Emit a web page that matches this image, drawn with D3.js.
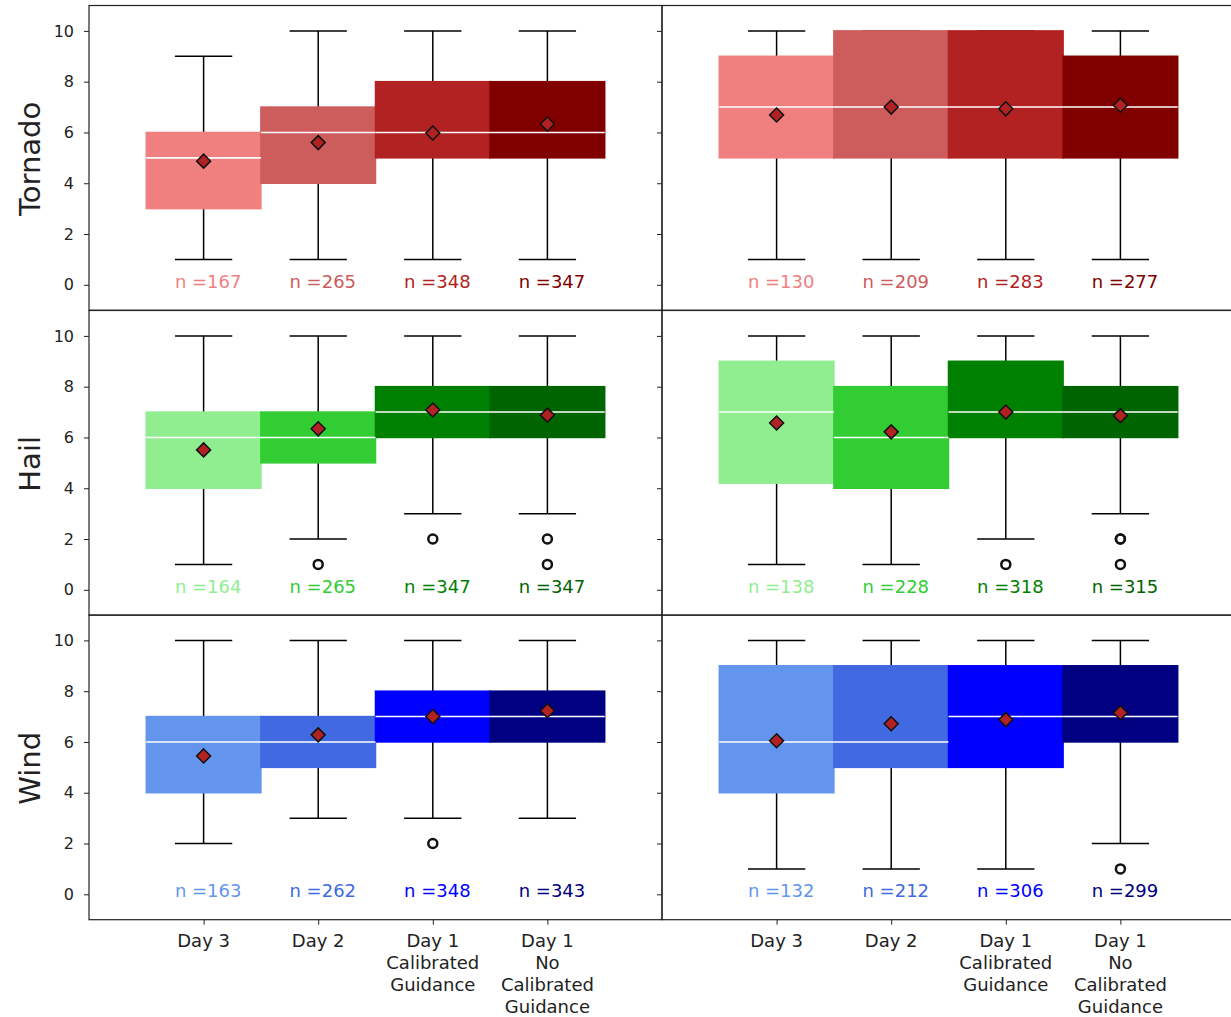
<!DOCTYPE html>
<html>
<head>
<meta charset="utf-8">
<script src="https://cdn.jsdelivr.net/npm/d3@7"></script>
<style>
  html, body { margin: 0; padding: 0; background: #fff; }
  svg { display: block; font-family: "DejaVu Sans", sans-serif; }
</style>
</head>
<body>
<svg id="chart" width="1231" height="1017"></svg>
<script>
// ---------------- DATA ----------------
const categories = [
  ["Day 3"],
  ["Day 2"],
  ["Day 1", "Calibrated", "Guidance"],
  ["Day 1", "No", "Calibrated", "Guidance"]
];
const hazards = ["Tornado", "Hail", "Wind"];
const yTicks = [0, 2, 4, 6, 8, 10];

const tornadoColors = ["#F08080", "#CD5C5C", "#B22222", "#800000"];
const hailColors    = ["#90EE90", "#32CD32", "#008000", "#006400"];
const windColors    = ["#6495ED", "#4169E1", "#0000FF", "#000080"];

// Tornado, left column
const tornadoLeft = {
  lo: [1, 1, 1, 1], q1: [3, 4, 5, 5], med: [5, 6, 6, 6], q3: [6, 7, 8, 8], hi: [9, 10, 10, 10],
  mean: [4.87, 5.6, 5.98, 6.33], n: [167, 265, 348, 347], out: [[], [], [], []]
};
// Tornado, right column
const tornadoRight = {
  lo: [1, 1, 1, 1], q1: [5, 5, 5, 5], med: [7, 7, 7, 7], q3: [9, 10, 10, 9], hi: [10, 10, 10, 10],
  mean: [6.69, 7.0, 6.93, 7.07], n: [130, 209, 283, 277], out: [[], [], [], []]
};
// Hail, left column
const hailLeft = {
  lo: [1, 2, 3, 3], q1: [4, 5, 6, 6], med: [6, 6, 7, 7], q3: [7, 7, 8, 8], hi: [10, 10, 10, 10],
  mean: [5.51, 6.34, 7.08, 6.88], n: [164, 265, 347, 347], out: [[], [1], [2], [2, 1]]
};
// Hail, right column
const hailRight = {
  lo: [1, 1, 2, 3], q1: [4.2, 4, 6, 6], med: [7, 6, 7, 7], q3: [9, 8, 9, 8], hi: [10, 10, 10, 10],
  mean: [6.57, 6.22, 7.0, 6.86], n: [138, 228, 318, 315], out: [[], [], [1], [2, 2, 1]]
};
// Wind, left column
const windLeft = {
  lo: [2, 3, 3, 3], q1: [4, 5, 6, 6], med: [6, 6, 7, 7], q3: [7, 7, 8, 8], hi: [10, 10, 10, 10],
  mean: [5.45, 6.28, 7.0, 7.23], n: [163, 262, 348, 343], out: [[], [], [2], []]
};
// Wind, right column
const windRight = {
  lo: [1, 1, 1, 2], q1: [4, 5, 5, 6], med: [6, 6, 7, 7], q3: [9, 9, 9, 9], hi: [10, 10, 10, 10],
  mean: [6.05, 6.72, 6.88, 7.15], n: [132, 212, 306, 299], out: [[], [], [], [1]]
};

const panels = [
  [tornadoLeft, tornadoRight],
  [hailLeft, hailRight],
  [windLeft, windRight]
];
const palettes = [tornadoColors, hailColors, windColors];

// ---------------- LAYOUT ----------------
const svg = d3.select("#chart");
svg.append("rect").attr("width", 1231).attr("height", 1017).attr("fill", "#fff");

const colX = [89, 662];
const panelW = 573;
const rowY = [5.5, 310.5, 615];
const panelH = 304.7;
const textColor = "#222";

panels.forEach((rowPanels, r) => {
  rowPanels.forEach((p, c) => {
    const x = d3.scaleLinear().domain([0, 5]).range([colX[c], colX[c] + panelW]);
    const y = d3.scaleLinear().domain([-1, 11]).range([rowY[r] + panelH, rowY[r]]);
    const colors = palettes[r];
    const g = svg.append("g");
    const pos = d3.range(1, 5);

    // whiskers
    pos.forEach((px, i) => {
      const cx = x(px);
      const hw = x(0.25) - x(0);
      g.append("line").attr("x1", cx).attr("x2", cx).attr("y1", y(p.hi[i])).attr("y2", y(p.q3[i]))
        .attr("stroke", "#000").attr("stroke-width", 1.5);
      g.append("line").attr("x1", cx).attr("x2", cx).attr("y1", y(p.q1[i])).attr("y2", y(p.lo[i]))
        .attr("stroke", "#000").attr("stroke-width", 1.5);
      g.append("line").attr("x1", cx - hw).attr("x2", cx + hw).attr("y1", y(p.hi[i])).attr("y2", y(p.hi[i]))
        .attr("stroke", "#000").attr("stroke-width", 1.5);
      g.append("line").attr("x1", cx - hw).attr("x2", cx + hw).attr("y1", y(p.lo[i])).attr("y2", y(p.lo[i]))
        .attr("stroke", "#000").attr("stroke-width", 1.5);
    });

    // boxes
    g.selectAll("rect.box").data(pos).enter().append("rect")
      .attr("class", "box")
      .attr("x", (d) => x(d - 0.5))
      .attr("width", x(1) - x(0))
      .attr("y", (d, i) => y(p.q3[i]))
      .attr("height", (d, i) => y(p.q1[i]) - y(p.q3[i]))
      .attr("fill", (d, i) => colors[i])
      .attr("stroke", (d, i) => colors[i])
      .attr("stroke-width", 1.5);

    // medians
    g.selectAll("line.med").data(pos).enter().append("line")
      .attr("x1", (d) => x(d - 0.5)).attr("x2", (d) => x(d + 0.5))
      .attr("y1", (d, i) => y(p.med[i])).attr("y2", (d, i) => y(p.med[i]))
      .attr("stroke", "#fff").attr("stroke-width", 1.6);

    // outliers
    pos.forEach((px, i) => {
      p.out[i].forEach((v) => {
        g.append("circle").attr("cx", x(px)).attr("cy", y(v)).attr("r", 4.5)
          .attr("fill", "none").attr("stroke", "#111").attr("stroke-width", 2.5);
      });
    });

    // means
    const dm = 7;
    g.selectAll("path.mean").data(pos).enter().append("path")
      .attr("d", (d, i) => {
        const cx = x(d), cy = y(p.mean[i]);
        return `M${cx},${cy - dm}L${cx + dm},${cy}L${cx},${cy + dm}L${cx - dm},${cy}Z`;
      })
      .attr("fill", "#B22222").attr("stroke", "#111").attr("stroke-width", 1.5);

    // n labels
    g.selectAll("text.n").data(pos).enter().append("text")
      .attr("x", (d) => x(d + 0.04))
      .attr("y", y(0) + 3)
      .attr("text-anchor", "middle")
      .attr("font-size", 18)
      .attr("fill", (d, i) => colors[i])
      .text((d, i) => "n =" + p.n[i]);

    // y axis
    const ax = d3.axisLeft(y).tickValues(yTicks).tickSizeInner(5).tickSizeOuter(0).tickPadding(10);
    if (c === 1) ax.tickFormat(() => "");
    const ag = svg.append("g").attr("transform", `translate(${colX[c]},0)`).call(ax);
    ag.select(".domain").remove();
    ag.selectAll(".tick line").attr("stroke", textColor).attr("stroke-width", 1);
    ag.selectAll(".tick text").attr("font-size", 16).attr("fill", textColor)
      .attr("font-family", "DejaVu Sans, sans-serif");

    // x axis on bottom row
    if (r === 2) {
      const bx = d3.axisBottom(x).tickValues(pos).tickSizeInner(5).tickSizeOuter(0).tickFormat(() => "");
      const bg = svg.append("g").attr("transform", `translate(0,${rowY[r] + panelH})`).call(bx);
      bg.select(".domain").remove();
      bg.selectAll(".tick line").attr("stroke", textColor).attr("stroke-width", 1);
      pos.forEach((px, i) => {
        const t = svg.append("text")
          .attr("x", x(px)).attr("y", 946.5)
          .attr("text-anchor", "middle").attr("font-size", 18).attr("fill", textColor);
        categories[i].forEach((line, k) => {
          t.append("tspan").attr("x", x(px)).attr("y", 946.5 + k * 22).text(line);
        });
      });
    }

    // frame
    svg.append("rect")
      .attr("x", colX[c]).attr("y", rowY[r])
      .attr("width", panelW).attr("height", panelH)
      .attr("fill", "none").attr("stroke", textColor).attr("stroke-width", 1.2);
  });

  // row label
  svg.append("text")
    .attr("transform", `translate(40,${rowY[r] + panelH / 2 + 1}) rotate(-90)`)
    .attr("text-anchor", "middle")
    .attr("font-size", 29)
    .attr("fill", textColor)
    .text(hazards[r]);
});
</script>
</body>
</html>
